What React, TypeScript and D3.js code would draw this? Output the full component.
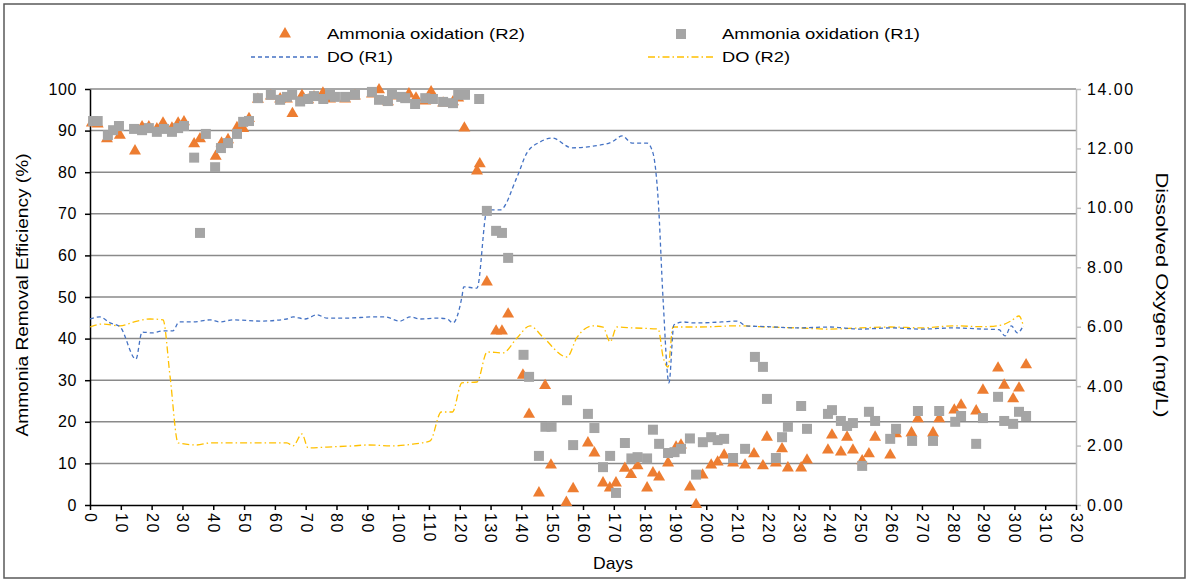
import React, { useEffect, useRef } from 'react';
import * as d3 from 'd3';

// Ammonia removal efficiency (%) - reactor 1 (grey squares)
const r1Days = [1, 2.5, 5.8, 7.5, 9.4, 14.3, 16.9, 19.1, 21.7, 24, 26.6, 28.6, 30.5, 33.8, 35.7, 37.6, 40.6, 42.5, 44.8, 47.7, 49.7, 51.6, 54.5, 58.7, 61.7, 63.9, 65.6, 68.2, 70.8, 72.7, 75.7, 77.9, 79.5, 82.8, 86, 91.5, 93.8, 96.7, 98, 101, 102.3, 105.5, 108.8, 111.3, 114.6, 117.8, 119.5, 121.7, 126.3, 128.8, 131.8, 133.7, 135.7, 140.7, 142.5, 145.7, 147.8, 149.8, 154.8, 156.8, 161.6, 163.7, 166.5, 168.8, 170.7, 173.6, 175.7, 177.7, 180.8, 182.7, 184.7, 187.6, 189.7, 191.8, 194.7, 196.7, 198.9, 201.6, 203.7, 205.8, 208.7, 212.6, 215.8, 218.4, 219.7, 222.6, 224.6, 226.5, 230.8, 232.7, 239.5, 240.8, 243.7, 245.7, 247.6, 250.6, 252.8, 254.8, 259.7, 261.6, 266.8, 268.7, 273.6, 275.6, 280.8, 282.7, 287.6, 289.8, 294.7, 296.7, 299.6, 301.5, 303.8];
const r1Values = [92.3, 92.3, 88.9, 90.1, 91.1, 90.4, 90.1, 90.6, 89.7, 90.4, 89.7, 90.6, 91.1, 83.5, 65.4, 89.2, 81.2, 85.8, 87, 89.2, 92.1, 92.3, 97.8, 98.6, 97.4, 98.1, 98.6, 97.0, 97.6, 98.3, 97.6, 98.6, 98.1, 98.1, 98.6, 99.3, 97.4, 97.1, 98.8, 98.1, 97.8, 96.4, 97.8, 97.6, 96.9, 96.6, 98.6, 98.6, 97.6, 70.7, 65.9, 65.4, 59.4, 36.1, 30.8, 11.8, 18.8, 18.8, 25.2, 14.4, 21.9, 18.5, 9.1, 11.8, 2.9, 14.9, 11.2, 11.5, 11.2, 18.1, 14.7, 12.5, 12.7, 13.5, 16.0, 7.3, 15.1, 16.3, 15.6, 15.9, 11.3, 13.5, 35.6, 33.2, 25.5, 11.3, 16.3, 18.8, 23.8, 18.3, 21.9, 22.8, 20.2, 19.0, 19.7, 9.4, 22.4, 20.2, 15.9, 18.3, 15.4, 22.6, 15.4, 22.6, 20.0, 21.4, 14.7, 20.9, 26.0, 20.2, 19.5, 22.4, 21.4];

// Ammonia removal efficiency (%) - reactor 2 (orange triangles)
const r2Days = [0.6, 2.5, 5.5, 9.7, 14.6, 16.9, 19.1, 21.7, 23.7, 26.6, 28.6, 30.5, 33.8, 35.7, 40.8, 42.7, 44.8, 47.7, 49.7, 51.6, 54.5, 58.7, 61.7, 63.9, 65.7, 68.8, 70.8, 72.7, 75.6, 77.9, 82.8, 86, 91.5, 93.8, 96.7, 98, 103.5, 105.8, 108.8, 110.7, 114.6, 117.8, 119.5, 121.5, 125.6, 126.5, 128.8, 131.8, 133.7, 135.7, 140.5, 142.5, 145.7, 147.7, 149.6, 154.6, 156.8, 161.6, 163.7, 166.5, 168.7, 170.7, 173.6, 175.6, 177.7, 180.8, 182.7, 184.7, 187.6, 190.2, 191.8, 194.7, 196.7, 198.8, 201.6, 203.7, 205.8, 208.7, 212.6, 215.5, 218.4, 219.7, 222.6, 224.6, 226.5, 230.8, 232.7, 239.5, 240.8, 243.7, 245.7, 247.6, 250.6, 252.8, 254.8, 259.7, 261.6, 266.6, 268.7, 273.6, 275.6, 280.5, 282.7, 287.6, 289.8, 294.7, 296.7, 299.6, 301.5, 303.8];
const r2Values = [91.8, 91.6, 88.0, 88.9, 85.1, 90.9, 90.9, 90.4, 91.8, 90.6, 91.8, 92.1, 86.8, 88.0, 83.8, 87.0, 87.8, 90.7, 90.5, 92.9, 97.5, 98.3, 97.6, 97.6, 94.1, 98.4, 97.4, 98.1, 99.0, 97.6, 97.6, 98.3, 98.8, 99.8, 96.9, 98.3, 98.8, 97.8, 97.1, 99.3, 96.6, 96.9, 97.8, 90.6, 80.3, 82.0, 53.6, 41.8, 41.8, 45.9, 31.2, 21.8, 2.9, 28.7, 9.6, 0.6, 3.9, 14.9, 12.5, 5.3, 4.1, 5.3, 8.8, 7.3, 9.4, 4.1, 7.7, 6.7, 10.1, 13.9, 14.4, 4.3, 0.1, 7.2, 9.6, 10.3, 12.0, 10.1, 9.6, 12.3, 9.4, 16.3, 10.1, 13.5, 8.9, 8.9, 10.8, 13.2, 16.8, 12.7, 16.3, 13.2, 10.6, 12.3, 16.3, 12.0, 17.1, 17.3, 20.7, 17.3, 20.7, 22.8, 24.0, 22.6, 27.6, 32.9, 28.8, 25.5, 28.1, 33.7];

// Dissolved oxygen (mg/L)
const do1Days = [0, 3.2, 6.5, 9.7, 14.9, 16.9, 20.1, 23.7, 26.9, 28.9, 33.4, 39, 42.2, 46.4, 55.2, 63.9, 65.9, 69.8, 73.7, 76.9, 83.4, 91.9, 95.7, 100.6, 103.9, 107.1, 112.6, 115.9, 117.8, 120.7, 121.3, 125.6, 128.9, 133.1, 138.6, 141.8, 146.1, 150, 156.4, 163.3, 169.4, 172.7, 175.9, 180.8, 182.7, 184.4, 186, 187.9, 189.5, 192.5, 195.7, 198, 205, 210, 213, 220, 230, 240, 250, 260, 270, 280, 290, 295, 297, 299, 301, 303];
const do1Values = [6.26, 6.33, 6.13, 6.0, 4.91, 5.82, 5.79, 5.86, 5.86, 6.16, 6.16, 6.23, 6.16, 6.23, 6.19, 6.26, 6.33, 6.26, 6.4, 6.29, 6.29, 6.33, 6.33, 6.19, 6.33, 6.26, 6.29, 6.26, 6.13, 7.0, 7.34, 7.3, 9.93, 9.93, 11.04, 11.85, 12.22, 12.35, 12.02, 12.08, 12.22, 12.42, 12.18, 12.18, 11.85, 10.27, 6.9, 4.11, 6.06, 6.16, 6.13, 6.13, 6.16, 6.19, 6.03, 6.0, 5.96, 5.99, 5.92, 5.96, 5.92, 5.96, 5.92, 5.9, 5.69, 6.03, 5.79, 6.06];
const do2Days = [0, 3.9, 9.7, 15.3, 19.5, 23.7, 26, 28.6, 34.7, 39, 49.7, 63.9, 65.9, 68.8, 70.8, 76.9, 85.4, 89.9, 98.3, 104.8, 110.4, 114, 117.6, 120.7, 125.6, 128.9, 134, 138.6, 142.8, 147, 154.8, 158.1, 163.3, 166.5, 168.8, 171, 176.2, 184.4, 186, 187.6, 189.2, 193.8, 198, 210, 220, 230, 240, 250, 260, 270, 280, 290, 296, 299, 301.5, 303];
const do2Values = [5.99, 6.09, 6.03, 6.19, 6.26, 6.23, 4.31, 2.09, 2.02, 2.09, 2.09, 2.09, 1.99, 2.39, 1.92, 1.95, 1.99, 2.02, 1.99, 2.05, 2.16, 3.13, 3.13, 4.11, 4.14, 5.15, 5.12, 5.62, 6.03, 5.65, 4.98, 5.65, 6.03, 5.99, 5.49, 5.99, 5.96, 5.92, 4.98, 4.64, 5.99, 5.99, 5.99, 6.03, 5.99, 5.96, 5.92, 5.96, 5.99, 5.96, 6.03, 6.0, 6.06, 6.2, 6.36, 6.0];

const dayTicks = d3.range(0, 321, 10);
const effTicks = d3.range(0, 101, 10);
const doTicks = d3.range(0, 15, 2);

const W = 1189;
const H = 582;
const FONT = '"Liberation Sans", Arial, sans-serif';
const ORANGE = '#ED7D31';
const GREY = '#A5A5A5';
const BLUE = '#4472C4';
const YELLOW = '#FFC000';

const App = () => {
  const ref = useRef<SVGSVGElement>(null);

  useEffect(() => {
    const svg = d3.select(ref.current);
    svg.selectAll('*').remove();

    const x = d3.scaleLinear().domain([0, 320]).range([90, 1076]);
    const y = d3.scaleLinear().domain([0, 100]).range([505, 89]);
    const y2 = d3.scaleLinear().domain([0, 14]).range([505, 89]);

    // chart frame
    svg.append('rect')
      .attr('x', 4).attr('y', 4).attr('width', 1181).attr('height', 574)
      .attr('fill', '#fff').attr('stroke', '#595959').attr('stroke-width', 1.5);

    // horizontal gridlines
    svg.append('g')
      .selectAll('line')
      .data(effTicks.filter(t => t > 0))
      .enter().append('line')
      .attr('x1', x(0)).attr('x2', x(320))
      .attr('y1', d => y(d)).attr('y2', d => y(d))
      .attr('stroke', '#8a8a8a').attr('stroke-width', 1.5);

    // right axis (DO)
    const right = svg.append('g')
      .attr('transform', `translate(${x(320)},0)`)
      .call(d3.axisRight(y2).tickValues(doTicks).tickSize(5).tickSizeOuter(0).tickPadding(6).tickFormat(d3.format('.2f')));
    right.select('.domain').attr('stroke', '#bfbfbf').attr('stroke-width', 1.5);
    right.selectAll('.tick line').attr('stroke', '#bfbfbf').attr('stroke-width', 1.5);
    right.selectAll('text').attr('font-family', FONT).attr('font-size', 16).attr('letter-spacing', 1.5).attr('fill', '#000');

    // left axis (efficiency)
    const left = svg.append('g')
      .attr('transform', `translate(${x(0)},0)`)
      .call(d3.axisLeft(y).tickValues(effTicks).tickSize(5).tickSizeOuter(0).tickPadding(8));
    left.select('.domain').attr('stroke', '#000').attr('stroke-width', 1.5);
    left.selectAll('.tick line').attr('stroke', '#000').attr('stroke-width', 1.5);
    left.selectAll('text').attr('font-family', FONT).attr('font-size', 16).attr('letter-spacing', 0.6).attr('fill', '#000');

    // bottom axis (days) with vertical labels
    const bottom = svg.append('g')
      .attr('transform', `translate(0,${y(0)})`)
      .call(d3.axisBottom(x).tickValues(dayTicks).tickSize(5).tickSizeOuter(0));
    bottom.select('.domain').attr('stroke', '#000').attr('stroke-width', 1.5);
    bottom.selectAll('.tick line').attr('stroke', '#000').attr('stroke-width', 1.5);
    bottom.selectAll('text')
      .attr('font-family', FONT).attr('font-size', 16).attr('letter-spacing', 1.5).attr('fill', '#000')
      .attr('transform', 'translate(0,8) rotate(90)')
      .attr('x', 0).attr('y', 0).attr('dy', '0.35em')
      .attr('text-anchor', 'start');

    // DO lines
    const doLine = d3.line<[number, number]>()
      .x(d => x(d[0]))
      .y(d => y2(d[1]))
      .curve(d3.curveMonotoneX);

    svg.append('path')
      .datum(do2Days.map((d, i) => [d, do2Values[i]] as [number, number]))
      .attr('fill', 'none').attr('stroke', YELLOW).attr('stroke-width', 1.3)
      .attr('stroke-dasharray', '7,3,1.5,3')
      .attr('d', doLine);

    svg.append('path')
      .datum(do1Days.map((d, i) => [d, do1Values[i]] as [number, number]))
      .attr('fill', 'none').attr('stroke', BLUE).attr('stroke-width', 1.3)
      .attr('stroke-dasharray', '4,3')
      .attr('d', doLine);

    // markers
    const tri = d3.symbol().type(d3.symbolTriangle).size(62);
    const sq = d3.symbol().type(d3.symbolSquare).size(100);

    svg.append('g')
      .selectAll('path')
      .data(r2Days.map((d, i) => [d, r2Values[i]]))
      .enter().append('path')
      .attr('d', tri())
      .attr('transform', d => `translate(${x(d[0])},${y(d[1])})`)
      .attr('fill', ORANGE);

    svg.append('g')
      .selectAll('path')
      .data(r1Days.map((d, i) => [d, r1Values[i]]))
      .enter().append('path')
      .attr('d', sq())
      .attr('transform', d => `translate(${x(d[0])},${y(d[1])})`)
      .attr('fill', GREY);

    // legend
    const lg = svg.append('g').attr('font-family', FONT).attr('font-size', 15).attr('fill', '#000');
    lg.append('path').attr('d', tri()).attr('transform', 'translate(285,34)').attr('fill', ORANGE);
    lg.append('text').attr('x', 327).attr('y', 39).attr('textLength', 198).attr('lengthAdjust', 'spacingAndGlyphs').text('Ammonia oxidation (R2)');
    lg.append('path').attr('d', sq()).attr('transform', 'translate(681,34)').attr('fill', GREY);
    lg.append('text').attr('x', 722).attr('y', 39).attr('textLength', 198).attr('lengthAdjust', 'spacingAndGlyphs').text('Ammonia oxidation (R1)');
    lg.append('line').attr('x1', 251).attr('x2', 318).attr('y1', 57).attr('y2', 57)
      .attr('stroke', BLUE).attr('stroke-width', 1.3).attr('stroke-dasharray', '4,3');
    lg.append('text').attr('x', 327).attr('y', 62).attr('textLength', 66).attr('lengthAdjust', 'spacingAndGlyphs').text('DO (R1)');
    lg.append('line').attr('x1', 648).attr('x2', 715).attr('y1', 57).attr('y2', 57)
      .attr('stroke', YELLOW).attr('stroke-width', 1.3).attr('stroke-dasharray', '7,3,1.5,3');
    lg.append('text').attr('x', 722).attr('y', 62).attr('textLength', 68).attr('lengthAdjust', 'spacingAndGlyphs').text('DO (R2)');

    // axis titles
    svg.append('text')
      .attr('transform', 'translate(28,295) rotate(-90)')
      .attr('text-anchor', 'middle').attr('font-family', FONT).attr('font-size', 16.5).attr('fill', '#000')
      .attr('textLength', 283).attr('lengthAdjust', 'spacingAndGlyphs')
      .text('Ammonia Removal Efficiency (%)');
    svg.append('text')
      .attr('transform', 'translate(1156,295) rotate(90)')
      .attr('text-anchor', 'middle').attr('font-family', FONT).attr('font-size', 17).attr('fill', '#000')
      .attr('textLength', 245).attr('lengthAdjust', 'spacingAndGlyphs')
      .text('Dissolved  Oxygen (mg/L)');
    svg.append('text')
      .attr('x', 613).attr('y', 569)
      .attr('text-anchor', 'middle').attr('font-family', FONT).attr('font-size', 17).attr('fill', '#000')
      .attr('textLength', 40).attr('lengthAdjust', 'spacingAndGlyphs')
      .text('Days');
  }, []);

  return (
    <svg ref={ref} width={W} height={H} style={{ position: 'fixed', left: 0, top: 0 }}></svg>
  );
};

export default App;
